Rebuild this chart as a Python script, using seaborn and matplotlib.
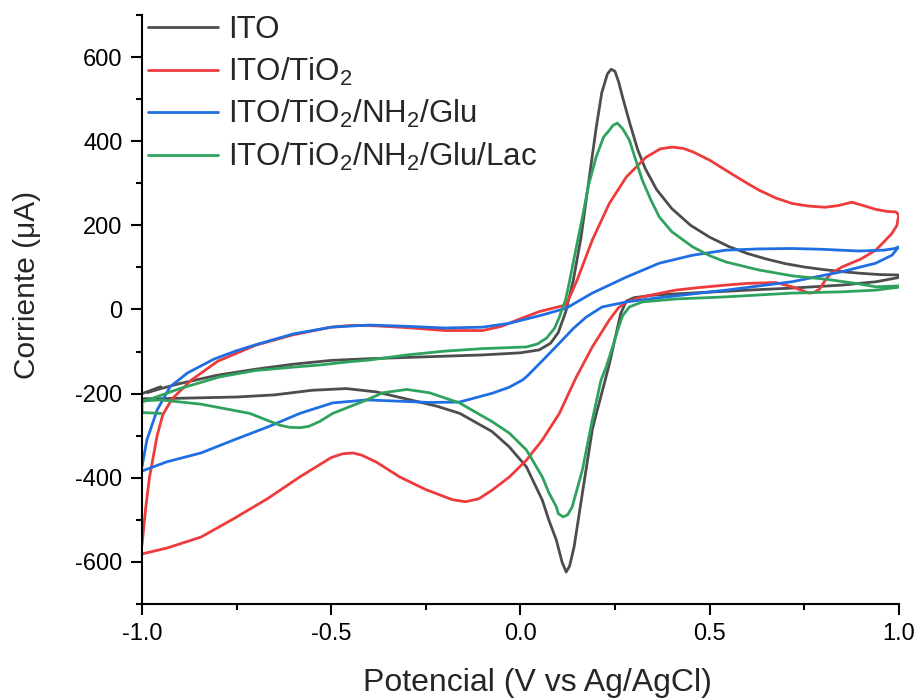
import numpy as np
import pandas as pd
import matplotlib
matplotlib.use("Agg")
import matplotlib.pyplot as plt
import seaborn as sns
from matplotlib.ticker import MultipleLocator

# Cyclic voltammograms: (potential V, current uA), forward scan then reverse scan
series_names = ["ITO", r"ITO/TiO$_2$", r"ITO/TiO$_2$/NH$_2$/Glu", r"ITO/TiO$_2$/NH$_2$/Glu/Lac"]
series_colors = ["#4D4D4D", "#EE3B3B", "#1F6FE3", "#2FA35E"]

ito_potential = [
    -1.00, -0.95, -0.985, -0.95, -0.90, -0.80, -0.70, -0.60, -0.50, -0.40, -0.30, -0.20, -0.10, 0.00,
    0.05, 0.08, 0.10, 0.12, 0.14, 0.16, 0.18, 0.20, 0.215, 0.23, 0.24, 0.25, 0.26, 0.27, 0.29, 0.31,
    0.33, 0.36, 0.40, 0.45, 0.50, 0.55, 0.60, 0.65, 0.70, 0.75, 0.80, 0.85, 0.90, 0.95, 1.00,
    1.00, 0.94, 0.85, 0.72, 0.60, 0.45, 0.35, 0.30, 0.28, 0.265, 0.25, 0.235, 0.224, 0.20, 0.19,
    0.165, 0.142, 0.13, 0.121, 0.11, 0.095, 0.075, 0.058, 0.035, 0.016, -0.03, -0.075, -0.16,
    -0.22, -0.30, -0.38, -0.46, -0.55, -0.65, -0.75, -0.85, -0.95, -1.00,
]
ito_current = [
    -200, -184, -197, -188, -176, -156, -142, -130, -121, -117, -114, -111, -108, -103,
    -96, -80, -55, -5, 70, 170, 300, 430, 515, 560, 571, 566, 540, 505, 440, 380,
    335, 285, 240, 200, 172, 150, 133, 120, 109, 101, 95, 90, 86, 83, 82,
    76, 66, 58, 51, 46, 39, 34, 28, 20, -10, -70, -130, -168, -250, -286,
    -430, -564, -610, -624, -600, -548, -500, -453, -410, -374, -326, -290, -247,
    -230, -213, -196, -188, -192, -203, -208, -210, -212, -212,
]

tio2_potential = [
    -1.00, -0.99, -0.98, -0.96, -0.945, -0.92, -0.87, -0.80, -0.70, -0.60, -0.50, -0.45,
    -0.40, -0.30, -0.20, -0.10, -0.05, 0.00, 0.05, 0.121, 0.15, 0.19, 0.235, 0.28, 0.332, 0.37,
    0.401, 0.43, 0.455, 0.50, 0.543, 0.59, 0.63, 0.675, 0.718, 0.76, 0.806, 0.84, 0.876, 0.91,
    0.939, 0.97, 0.992, 1.00,
    0.995, 0.982, 0.96, 0.939, 0.90, 0.85, 0.82, 0.806, 0.79, 0.775, 0.763, 0.745, 0.718, 0.675,
    0.60, 0.543, 0.47, 0.41, 0.322, 0.28, 0.26, 0.235, 0.19, 0.147, 0.103, 0.058, 0.016, -0.029,
    -0.074, -0.11, -0.145, -0.18, -0.25, -0.319, -0.38, -0.42, -0.443, -0.47, -0.50, -0.583,
    -0.667, -0.757, -0.844, -0.934, -1.00,
]
tio2_current = [
    -560, -470, -398, -300, -250, -212, -168, -123, -85, -60, -42, -38,
    -38, -43, -50, -50, -40, -22, -5, 11, 70, 165, 252, 315, 362, 382,
    386, 383, 375, 355, 331, 305, 284, 265, 252, 246, 243, 247, 255, 246,
    238, 233, 232, 225,
    200, 181, 160, 141, 120, 101, 85, 70, 48, 40, 39, 45, 54, 64,
    62, 58, 52, 46, 30, 18, 5, -25, -89, -162, -247, -310, -358, -398,
    -429, -450, -457, -452, -428, -398, -363, -346, -341, -343, -352, -398,
    -449, -497, -541, -567, -581,
]

glu_potential = [
    -1.00, -0.987, -0.96, -0.926, -0.88, -0.81, -0.75, -0.70, -0.60, -0.50, -0.40, -0.30, -0.20,
    -0.10, -0.03, 0.058, 0.121, 0.19, 0.28, 0.367, 0.455, 0.543, 0.63, 0.718, 0.80, 0.894, 0.96,
    0.99, 1.00,
    0.982, 0.939, 0.85, 0.718, 0.543, 0.367, 0.28, 0.216, 0.174, 0.14, 0.103, 0.06, 0.016, 0.005,
    -0.03, -0.074, -0.161, -0.24, -0.319, -0.406, -0.496, -0.583, -0.667, -0.757, -0.844, -0.934,
    -1.00,
]
glu_current = [
    -374, -310, -239, -184, -151, -118, -98, -84, -58, -42, -37, -40, -44,
    -42, -33, -13, 3, 39, 77, 110, 129, 141, 144, 145, 143, 139, 141,
    145, 149,
    129, 110, 90, 66, 46, 28, 18, 6, -18, -45, -80, -120, -160, -168,
    -185, -199, -220, -221, -218, -215, -222, -247, -279, -310, -341, -362,
    -384,
]

lac_potential = [
    -0.95, -1.00, -1.00, -0.90, -0.794, -0.70, -0.60, -0.531, -0.45, -0.398, -0.30, -0.20, -0.10,
    0.016, 0.045, 0.069, 0.09, 0.103, 0.12, 0.129, 0.146, 0.164, 0.18, 0.20, 0.22, 0.235, 0.245,
    0.256, 0.27, 0.288, 0.305, 0.322, 0.345, 0.367, 0.40, 0.455, 0.50, 0.543, 0.63, 0.718, 0.807,
    0.894, 0.939, 1.00,
    1.00, 0.939, 0.85, 0.718, 0.543, 0.41, 0.322, 0.288, 0.27, 0.26, 0.245, 0.227, 0.213, 0.19,
    0.164, 0.137, 0.125, 0.113, 0.10, 0.095, 0.075, 0.058, 0.016, -0.029, -0.074, -0.161, -0.24,
    -0.30, -0.364, -0.406, -0.496, -0.53, -0.56, -0.583, -0.61, -0.636, -0.715, -0.844, -0.95, -1.00,
]
lac_current = [
    -247, -245, -220, -188, -160, -145, -137, -132, -124, -120, -108, -99, -93,
    -89, -82, -68, -45, -18, 25, 63, 140, 220, 295, 362, 410, 426, 438,
    443, 430, 403, 355, 308, 260, 220, 185, 149, 128, 113, 94, 80, 72,
    61, 54, 56,
    53, 46, 42, 39, 30, 25, 18, 6, -15, -41, -85, -136, -168, -263,
    -381, -469, -488, -493, -485, -469, -435, -398, -334, -294, -267, -222, -198,
    -190, -198, -215, -247, -266, -278, -281, -280, -275, -247, -225, -215, -217,
]

x_ticks = [-1.0, -0.5, 0.0, 0.5, 1.0]
y_ticks = [-600, -400, -200, 0, 200, 400, 600]

frames = []
for name, v, i in zip(series_names,
                      [ito_potential, tio2_potential, glu_potential, lac_potential],
                      [ito_current, tio2_current, glu_current, lac_current]):
    frames.append(pd.DataFrame({"serie": name, "potencial": v, "corriente": i}))
df = pd.concat(frames, ignore_index=True)

sns.set_theme(style="ticks")
plt.rcParams["font.family"] = ["Liberation Sans", "DejaVu Sans"]
plt.rcParams["mathtext.fontset"] = "custom"
plt.rcParams["mathtext.rm"] = "Liberation Sans"
plt.rcParams["mathtext.it"] = "Liberation Sans:italic"

fig = plt.figure(figsize=(9.19, 6.98), dpi=100)
ax = fig.add_axes([0.1545, 0.1347, 0.8235, 0.8438])

sns.lineplot(data=df, x="potencial", y="corriente", hue="serie",
             hue_order=series_names, palette=dict(zip(series_names, series_colors)),
             sort=False, estimator=None, linewidth=2.0, ax=ax)

ax.set_xlim(-1.0, 1.0)
ax.set_ylim(-700, 700)
ax.set_xticks(x_ticks)
ax.set_xticklabels([f"{t:.1f}" for t in x_ticks])
ax.set_yticks(y_ticks)
ax.set_yticklabels([f"{t}" for t in y_ticks])
ax.xaxis.set_minor_locator(MultipleLocator(0.25))
ax.yaxis.set_minor_locator(MultipleLocator(100))
for s in ["top", "right"]:
    ax.spines[s].set_visible(False)
for s in ["left", "bottom"]:
    ax.spines[s].set_linewidth(1.5)
    ax.spines[s].set_color("black")
ax.tick_params(which="major", direction="out", length=8, width=1.5, labelsize=17,
               colors="black", pad=6)
ax.tick_params(which="minor", direction="out", length=4.5, width=1.5, colors="black")

ax.set_xlabel("Potencial (V vs Ag/AgCl)", fontsize=23)
ax.xaxis.set_label_coords(0.523, -0.108)
ax.set_ylabel("Corriente (μA)", fontsize=21.5)
ax.yaxis.set_label_coords(-0.133, 0.542)

handles, labels = ax.get_legend_handles_labels()
ax.legend(handles, labels, loc="upper left", bbox_to_anchor=(0.0, 1.01), frameon=False,
          fontsize=22.5, handlelength=2.24, handletextpad=0.32, labelspacing=0.33,
          borderaxespad=0.0, borderpad=0.2)

fig.savefig("out.png", dpi=100)
